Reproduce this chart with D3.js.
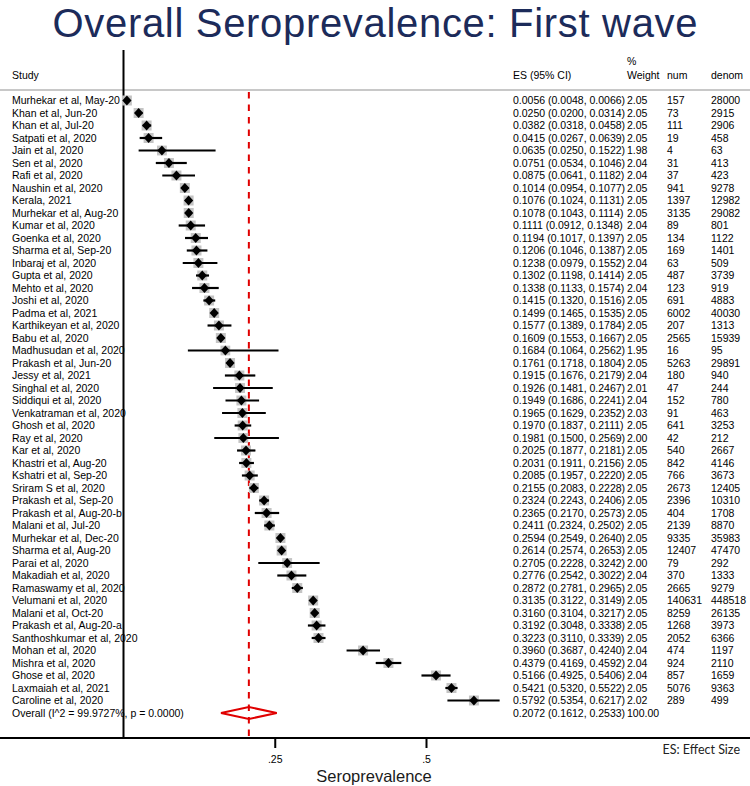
<!DOCTYPE html>
<html><head><meta charset="utf-8">
<script src="https://cdn.jsdelivr.net/npm/d3@7/dist/d3.min.js"></script>
<style>
html,body{margin:0;padding:0;background:#fff;}
svg{display:block;}
</style></head>
<body>
<script>
const studies = ["Murhekar et al, May-20","Khan et al, Jun-20","Khan et al, Jul-20","Satpati et al, 2020","Jain et al, 2020","Sen et al, 2020","Rafi et al, 2020","Naushin et al, 2020","Kerala, 2021","Murhekar et al, Aug-20","Kumar et al, 2020","Goenka et al, 2020","Sharma et al, Sep-20","Inbaraj et al, 2020","Gupta et al, 2020","Mehto et al, 2020","Joshi et al, 2020","Padma et al, 2021","Karthikeyan et al, 2020","Babu et al, 2020","Madhusudan et al, 2020","Prakash et al, Jun-20","Jessy et al, 2021","Singhal et al, 2020","Siddiqui et al, 2020","Venkatraman et al, 2020","Ghosh et al, 2020","Ray et al, 2020","Kar et al, 2020","Khastri et al, Aug-20","Kshatri et al, Sep-20","Sriram S et al, 2020","Prakash et al, Sep-20","Prakash et al, Aug-20-b","Malani et al, Jul-20","Murhekar et al, Dec-20","Sharma et al, Aug-20","Parai et al, 2020","Makadiah et al, 2020","Ramaswamy et al, 2020","Velumani et al, 2020","Malani et al, Oct-20","Prakash et al, Aug-20-a","Santhoshkumar et al, 2020","Mohan et al, 2020","Mishra et al, 2020","Ghose et al, 2020","Laxmaiah et al, 2021","Caroline et al, 2020"];
const es = [0.0056,0.0250,0.0382,0.0415,0.0635,0.0751,0.0875,0.1014,0.1076,0.1078,0.1111,0.1194,0.1206,0.1238,0.1302,0.1338,0.1415,0.1499,0.1577,0.1609,0.1684,0.1761,0.1915,0.1926,0.1949,0.1965,0.1970,0.1981,0.2025,0.2031,0.2085,0.2155,0.2324,0.2365,0.2411,0.2594,0.2614,0.2705,0.2776,0.2872,0.3135,0.3160,0.3192,0.3223,0.3960,0.4379,0.5166,0.5421,0.5792];
const ciLow = [0.0048,0.0200,0.0318,0.0267,0.0250,0.0534,0.0641,0.0954,0.1024,0.1043,0.0912,0.1017,0.1046,0.0979,0.1198,0.1133,0.1320,0.1465,0.1389,0.1553,0.1064,0.1718,0.1676,0.1481,0.1686,0.1629,0.1837,0.1500,0.1877,0.1911,0.1957,0.2083,0.2243,0.2170,0.2324,0.2549,0.2574,0.2228,0.2542,0.2781,0.3122,0.3104,0.3048,0.3110,0.3687,0.4169,0.4925,0.5320,0.5354];
const ciHigh = [0.0066,0.0314,0.0458,0.0639,0.1522,0.1046,0.1182,0.1077,0.1131,0.1114,0.1348,0.1397,0.1387,0.1552,0.1414,0.1574,0.1516,0.1535,0.1784,0.1667,0.2562,0.1804,0.2179,0.2467,0.2241,0.2352,0.2111,0.2569,0.2181,0.2156,0.2220,0.2228,0.2406,0.2573,0.2502,0.2640,0.2653,0.3242,0.3022,0.2965,0.3149,0.3217,0.3338,0.3339,0.4240,0.4592,0.5406,0.5522,0.6217];
const weights = [2.05,2.05,2.05,2.05,1.98,2.04,2.04,2.05,2.05,2.05,2.04,2.05,2.05,2.04,2.05,2.04,2.05,2.05,2.05,2.05,1.95,2.05,2.04,2.01,2.04,2.03,2.05,2.00,2.05,2.05,2.05,2.05,2.05,2.05,2.05,2.05,2.05,2.00,2.04,2.05,2.05,2.05,2.05,2.05,2.04,2.04,2.04,2.05,2.02];
const nums = [157,73,111,19,4,31,37,941,1397,3135,89,134,169,63,487,123,691,6002,207,2565,16,5263,180,47,152,91,641,42,540,842,766,2673,2396,404,2139,9335,12407,79,370,2665,140631,8259,1268,2052,474,924,857,5076,289];
const denoms = [28000,2915,2906,458,63,413,423,9278,12982,29082,801,1122,1401,509,3739,919,4883,40030,1313,15939,95,29891,940,244,780,463,3253,212,2667,4146,3673,12405,10310,1708,8870,35983,47470,292,1333,9279,448518,26135,3973,6366,1197,2110,1659,9363,499];
const overallLabel = "Overall (I^2 = 99.9727%, p = 0.0000)";
const overallES = 0.2072, overallLow = 0.1612, overallHigh = 0.2533, overallWeight = 100.00;
const tickValues = [0.25, 0.5];
const tickLabels = [".25", ".5"];

const W = 750, H = 786;
const svg = d3.select("body").append("svg").attr("width", W).attr("height", H);
const font = "'Liberation Sans', Arial, Helvetica, sans-serif";
const fs = 10.5;

const x = d3.scaleLinear().domain([0, 0.5]).range([123.5, 426]);
const rows = d3.range(studies.length + 1);
const y = d3.scalePoint().domain(rows).range([100.5, 713]);
const f4 = d3.format(".4f"), f2 = d3.format(".2f");

// title
svg.append("text").attr("x", 375).attr("y", 37).attr("text-anchor", "middle")
  .attr("font-family", font).attr("font-size", 40).attr("fill", "#1c2b5a")
  .attr("textLength", 645).attr("lengthAdjust", "spacing")
  .text("Overall Seroprevalence: First wave");

// header
const hdr = svg.append("g").attr("font-family", font).attr("font-size", fs).attr("fill", "#000");
hdr.append("text").attr("x", 12).attr("y", 79).text("Study");
hdr.append("text").attr("x", 513).attr("y", 79).text("ES (95% CI)");
hdr.append("text").attr("x", 627).attr("y", 65).text("%");
hdr.append("text").attr("x", 627).attr("y", 79).text("Weight");
hdr.append("text").attr("x", 667).attr("y", 79).text("num");
hdr.append("text").attr("x", 711).attr("y", 79).text("denom");

// header rule
svg.append("line").attr("x1", 0).attr("x2", W).attr("y1", 90).attr("y2", 90)
  .attr("stroke", "#c8c8c8").attr("stroke-width", 2);

// vertical axis line at 0
svg.append("line").attr("x1", x(0)).attr("x2", x(0)).attr("y1", 50).attr("y2", 738)
  .attr("stroke", "#000").attr("stroke-width", 2);

// red dashed overall line
svg.append("line").attr("x1", x(overallES)).attr("x2", x(overallES)).attr("y1", 92).attr("y2", 738)
  .attr("stroke", "#e00000").attr("stroke-width", 2).attr("stroke-dasharray", "6.5,6");

// rows
const data = studies.map((s, i) => ({s, es: es[i], lo: ciLow[i], hi: ciHigh[i], w: weights[i], n: nums[i], d: denoms[i], i}));

const g = svg.append("g");
g.selectAll("rect.box").data(data).join("rect").attr("class", "box")
  .attr("x", d => x(d.es) - 5 * Math.sqrt(d.w / 2.05))
  .attr("y", d => y(d.i) - 5 * Math.sqrt(d.w / 2.05))
  .attr("width", d => 10 * Math.sqrt(d.w / 2.05))
  .attr("height", d => 10 * Math.sqrt(d.w / 2.05))
  .attr("fill", "#c4c4c4");
g.selectAll("line.ci").data(data).join("line").attr("class", "ci")
  .attr("x1", d => x(d.lo)).attr("x2", d => x(d.hi))
  .attr("y1", d => y(d.i)).attr("y2", d => y(d.i))
  .attr("stroke", "#000").attr("stroke-width", 2.2);
g.selectAll("path.pt").data(data).join("path").attr("class", "pt")
  .attr("d", d => {
    const cx = x(d.es), cy = y(d.i), a = 4.6, b = 5;
    return `M${cx - a},${cy}L${cx},${cy - b}L${cx + a},${cy}L${cx},${cy + b}Z`;
  }).attr("fill", "#000");

// overall diamond
const oy = y(studies.length);
svg.append("path")
  .attr("d", `M${x(overallLow)},${oy}L${x(overallES)},${oy - 6}L${x(overallHigh)},${oy}L${x(overallES)},${oy + 6}Z`)
  .attr("fill", "none").attr("stroke", "#e00000").attr("stroke-width", 2);

// text columns
const tg = svg.append("g").attr("font-family", font).attr("font-size", fs).attr("fill", "#000");
const rowsT = tg.selectAll("g.row").data(data).join("g").attr("class", "row");
rowsT.append("text").attr("x", 12).attr("y", d => y(d.i) + 3.8).text(d => d.s);
rowsT.append("text").attr("x", 513).attr("y", d => y(d.i) + 3.8).text(d => `${f4(d.es)} (${f4(d.lo)}, ${f4(d.hi)})`);
rowsT.append("text").attr("x", 627).attr("y", d => y(d.i) + 3.8).text(d => f2(d.w));
rowsT.append("text").attr("x", 667).attr("y", d => y(d.i) + 3.8).text(d => d.n);
rowsT.append("text").attr("x", 711).attr("y", d => y(d.i) + 3.8).text(d => d.d);

tg.append("text").attr("x", 12).attr("y", oy + 3.8).text(overallLabel);
tg.append("text").attr("x", 513).attr("y", oy + 3.8).text(`${f4(overallES)} (${f4(overallLow)}, ${f4(overallHigh)})`);
tg.append("text").attr("x", 627).attr("y", oy + 3.8).text(f2(overallWeight));

// bottom axis
svg.append("line").attr("x1", 0).attr("x2", W).attr("y1", 738).attr("y2", 738)
  .attr("stroke", "#000").attr("stroke-width", 2);
const axis = d3.axisBottom(x).tickValues(tickValues)
  .tickFormat((d, i) => tickLabels[i]).tickSize(10).tickPadding(8);
const ax = svg.append("g").attr("transform", "translate(0,738)").call(axis);
ax.select(".domain").remove();
ax.selectAll(".tick line").attr("stroke", "#000").attr("stroke-width", 2);
ax.selectAll(".tick text").attr("font-family", font).attr("font-size", fs).attr("fill", "#000");

svg.append("text").attr("x", 374).attr("y", 782).attr("text-anchor", "middle")
  .attr("font-family", font).attr("font-size", 16.5).attr("fill", "#1a1a1a").text("Seroprevalence");

svg.append("text").attr("x", 740).attr("y", 754).attr("text-anchor", "end")
  .attr("font-family", "Lato, 'Open Sans', sans-serif").attr("font-size", 12.5).attr("fill", "#222").text("ES: Effect Size");
</script>
</body></html>
